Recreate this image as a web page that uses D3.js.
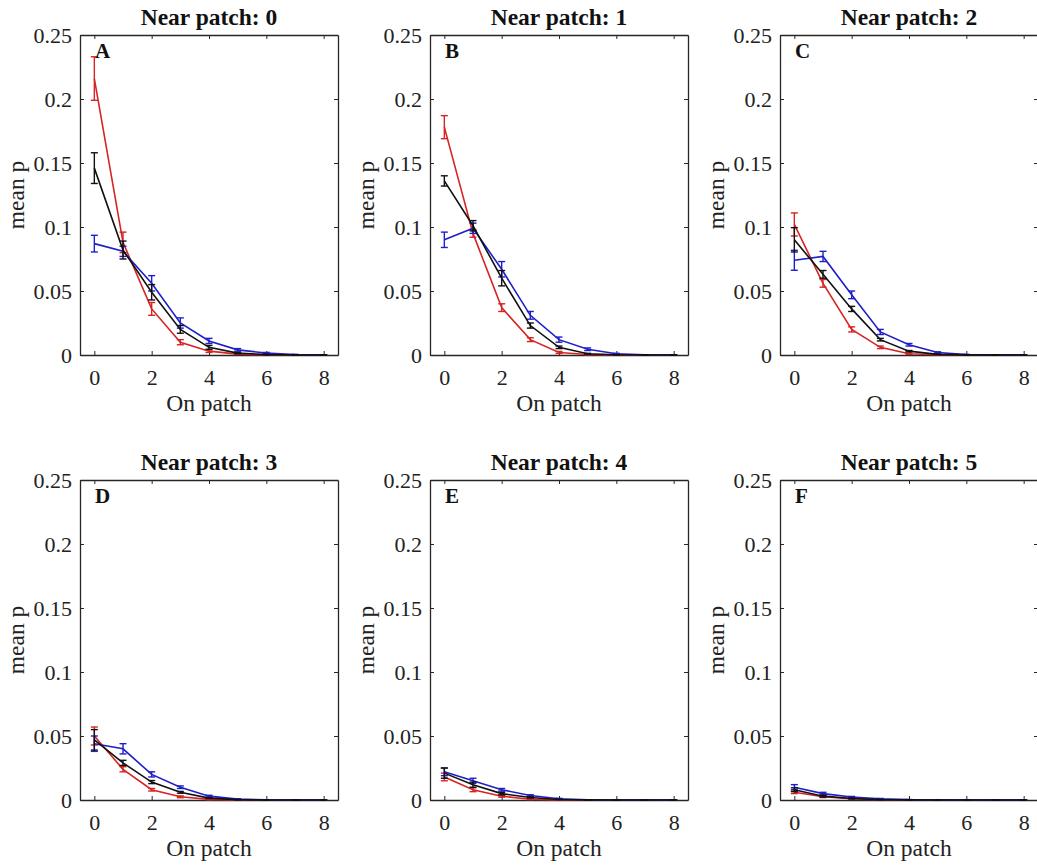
<!DOCTYPE html>
<html>
<head>
<meta charset="utf-8">
<script src="https://cdn.jsdelivr.net/npm/d3@7"></script>
<style>
  html, body { margin: 0; padding: 0; background: #fff; }
  svg { display: block; }
</style>
</head>
<body>
<script>
// ---------- data ----------
const onPatch = [0, 1, 2, 3, 4, 5, 6, 7, 8];
const nearPatch = [0, 1, 2, 3, 4, 5];
const panelLetters = ["A", "B", "C", "D", "E", "F"];
const xTicks = [0, 2, 4, 6, 8];
const yTicks = [0, 0.05, 0.1, 0.15, 0.2, 0.25];
const yTickLabels = ["0", "0.05", "0.1", "0.15", "0.2", "0.25"];

const redMean = [
  [0.216, 0.088, 0.036, 0.010, 0.003, 0.0007, 0.0001, 0, 0],
  [0.178, 0.095, 0.037, 0.012, 0.002, 0.0004, 0, 0, 0],
  [0.102, 0.056, 0.020, 0.006, 0.001, 0.0002, 0, 0, 0],
  [0.050, 0.024, 0.008, 0.0025, 0.0005, 0.0001, 0, 0, 0],
  [0.018, 0.008, 0.003, 0.0006, 0.0001, 0, 0, 0, 0],
  [0.006, 0.0025, 0.001, 0.0002, 0, 0, 0, 0, 0]
];
const redErr = [
  [0.017, 0.008, 0.005, 0.002, 0.001, 0.0003, 0, 0, 0],
  [0.009, 0.003, 0.003, 0.0015, 0.0008, 0.0002, 0, 0, 0],
  [0.009, 0.003, 0.002, 0.001, 0.0005, 0, 0, 0, 0],
  [0.007, 0.002, 0.001, 0.0007, 0.0003, 0, 0, 0, 0],
  [0.003, 0.0015, 0.0008, 0.0003, 0, 0, 0, 0, 0],
  [0.001, 0.0006, 0.0003, 0, 0, 0, 0, 0, 0]
];
const blackMean = [
  [0.146, 0.082, 0.049, 0.020, 0.006, 0.0015, 0.0003, 0, 0],
  [0.136, 0.101, 0.060, 0.023, 0.006, 0.001, 0.0002, 0, 0],
  [0.090, 0.063, 0.036, 0.012, 0.003, 0.0005, 0.0001, 0, 0],
  [0.047, 0.029, 0.014, 0.006, 0.0015, 0.0003, 0, 0, 0],
  [0.021, 0.012, 0.005, 0.002, 0.0004, 0.0001, 0, 0, 0],
  [0.008, 0.003, 0.0012, 0.0003, 0.0001, 0, 0, 0, 0]
];
const blackErr = [
  [0.012, 0.007, 0.006, 0.003, 0.0015, 0.0005, 0.0002, 0, 0],
  [0.004, 0.004, 0.006, 0.002, 0.001, 0.0003, 0, 0, 0],
  [0.0095, 0.003, 0.002, 0.001, 0.0005, 0.0002, 0, 0, 0],
  [0.008, 0.002, 0.0012, 0.0007, 0.0003, 0, 0, 0, 0],
  [0.004, 0.002, 0.001, 0.0004, 0.0001, 0, 0, 0, 0],
  [0.0015, 0.0007, 0.0003, 0.0001, 0, 0, 0, 0, 0]
];
const blueMean = [
  [0.087, 0.081, 0.056, 0.025, 0.011, 0.004, 0.0015, 0.0003, 0],
  [0.090, 0.099, 0.067, 0.031, 0.012, 0.0045, 0.001, 0.0002, 0],
  [0.074, 0.077, 0.047, 0.018, 0.008, 0.002, 0.0003, 0.0001, 0],
  [0.044, 0.040, 0.020, 0.010, 0.003, 0.0007, 0.0001, 0, 0],
  [0.022, 0.015, 0.008, 0.0035, 0.001, 0.0002, 0, 0, 0],
  [0.010, 0.005, 0.0023, 0.001, 0.0003, 0.0001, 0, 0, 0]
];
const blueErr = [
  [0.0065, 0.004, 0.006, 0.004, 0.002, 0.001, 0.0005, 0.0002, 0],
  [0.006, 0.004, 0.006, 0.003, 0.002, 0.001, 0.0003, 0, 0],
  [0.0078, 0.004, 0.003, 0.002, 0.001, 0.0005, 0.0002, 0, 0],
  [0.006, 0.004, 0.002, 0.001, 0.0007, 0.0003, 0, 0, 0],
  [0.003, 0.002, 0.001, 0.0006, 0.0003, 0, 0, 0, 0],
  [0.002, 0.001, 0.0005, 0.0002, 0, 0, 0, 0, 0]
];

const seriesColors = { blue: "#1f1fc8", black: "#111111", red: "#d62424" };

// ---------- layout ----------
const W = 1037, H = 867;
const colLeft = [80, 430, 780];
const rowTop = [35, 480];
const pw = 258, ph = 320;
const axisColor = "#262626";
const tickFont = 22;
const labelFont = 23.5;
const FONT = '"Liberation Serif", "Times New Roman", Tinos, serif';

const svg = d3.select("body").append("svg")
  .attr("width", W).attr("height", H)
  .style("background", "#fff");

nearPatch.forEach((np, i) => {
  const col = i % 3, row = Math.floor(i / 3);
  const g = svg.append("g").attr("transform", `translate(${colLeft[col]},${rowTop[row]})`);

  const x = d3.scaleLinear().domain([-0.5, 8.5]).range([0, pw]);
  const y = d3.scaleLinear().domain([0, 0.25]).range([ph, 0]);

  const xb = d3.axisBottom(x).tickValues(xTicks).tickFormat(d3.format("d"))
    .tickSizeInner(-4).tickSizeOuter(0).tickPadding(14);
  const xt = d3.axisTop(x).tickValues(xTicks).tickFormat("")
    .tickSizeInner(-4).tickSizeOuter(0);
  const yl = d3.axisLeft(y).tickValues(yTicks).tickFormat((d, k) => yTickLabels[k])
    .tickSizeInner(-4).tickSizeOuter(0).tickPadding(8);
  const yr = d3.axisRight(y).tickValues(yTicks).tickFormat("")
    .tickSizeInner(-4).tickSizeOuter(0);

  const styleAxis = sel => {
    sel.attr("font-family", null).attr("font-size", null);
    sel.selectAll("path.domain").attr("stroke", axisColor).attr("stroke-width", 1.3);
    sel.selectAll(".tick line").attr("stroke", axisColor).attr("stroke-width", 1);
    sel.selectAll(".tick text").attr("fill", "#222").style("font-size", tickFont + "px")
      .style("font-family", FONT);
  };

  g.append("g").attr("transform", `translate(0,${ph})`).call(xb).call(styleAxis);
  g.append("g").call(xt).call(styleAxis);
  g.append("g").call(yl).call(styleAxis);
  g.append("g").attr("transform", `translate(${pw},0)`).call(yr).call(styleAxis);

  const series = [
    { mean: redMean[i], err: redErr[i], color: seriesColors.red },
    { mean: blueMean[i], err: blueErr[i], color: seriesColors.blue },
    { mean: blackMean[i], err: blackErr[i], color: seriesColors.black }
  ];
  const line = d3.line().x((d, k) => x(onPatch[k])).y(d => y(d));
  const cap = 3.5;
  series.forEach(s => {
    g.append("path").datum(s.mean)
      .attr("d", line).attr("fill", "none")
      .attr("stroke", s.color).attr("stroke-width", 1.6);
    const eb = g.append("g").attr("stroke", s.color).attr("stroke-width", 1.4);
    s.mean.forEach((m, k) => {
      const e = s.err[k];
      const cx = x(onPatch[k]);
      const y1 = y(m + e), y0 = y(Math.max(0, m - e));
      eb.append("line").attr("x1", cx).attr("x2", cx).attr("y1", y1).attr("y2", y0);
      eb.append("line").attr("x1", cx - cap).attr("x2", cx + cap).attr("y1", y1).attr("y2", y1);
      eb.append("line").attr("x1", cx - cap).attr("x2", cx + cap).attr("y1", y0).attr("y2", y0);
    });
  });

  g.append("text").attr("x", 15).attr("y", 23)
    .style("font-family", FONT)
    .style("font-size", "21px").style("font-weight", "bold").attr("fill", "#111")
    .text(panelLetters[i]);

  g.append("text").attr("x", pw / 2).attr("y", -10).attr("text-anchor", "middle")
    .style("font-family", FONT)
    .style("font-size", labelFont + "px").style("font-weight", "bold").attr("fill", "#111")
    .text("Near patch: " + np);

  g.append("text").attr("x", pw / 2).attr("y", ph + 56).attr("text-anchor", "middle")
    .style("font-family", FONT)
    .style("font-size", labelFont + "px").attr("fill", "#222")
    .text("On patch");
  g.append("text")
    .attr("transform", `translate(${-56},${ph / 2}) rotate(-90)`)
    .attr("text-anchor", "middle")
    .style("font-family", FONT)
    .style("font-size", labelFont + "px").attr("fill", "#222")
    .text("mean p");
});
</script>
</body>
</html>
